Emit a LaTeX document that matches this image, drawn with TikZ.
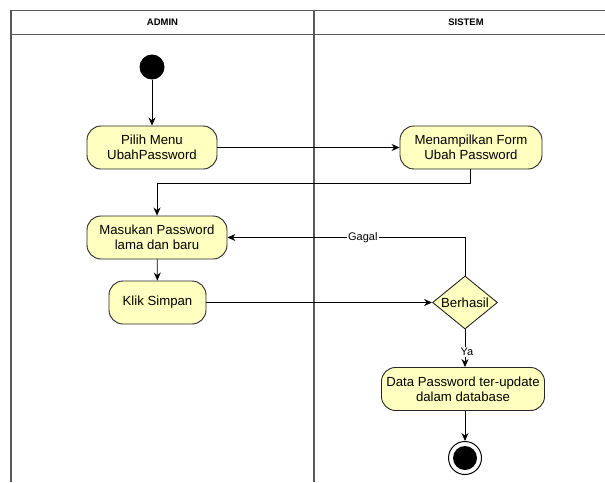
\documentclass[tikz,border=0pt]{standalone}
\usepackage{fontspec}
\setmainfont{Liberation Sans}
\usetikzlibrary{shapes.geometric,arrows.meta}
\definecolor{actfill}{HTML}{FFFFC0}
\begin{document}
\begin{tikzpicture}[x=1pt,y=-1pt,
  lane/.style={draw=black!65,line width=1.3pt},
  act/.style={draw=black!85,line width=0.9pt,fill=actfill,rounded corners=14pt,
    minimum height=43pt,align=center,inner sep=2pt,font=\fontsize{13.2}{15}\selectfont},
  dec/.style={draw=black!85,line width=0.9pt,fill=actfill,diamond,aspect=1.23,
    minimum width=65pt,minimum height=53pt,inner sep=0pt,font=\fontsize{13.2}{15}\selectfont},
  flow/.style={draw=black,line width=0.8pt,-{Stealth[length=8pt,width=7pt]}},
  lbl/.style={fill=white,inner sep=1pt,font=\fontsize{11}{12}\selectfont},
  head/.style={font=\bfseries\fontsize{9.5}{11}\selectfont}]
\useasboundingbox (0,0) rectangle (605,482);
\fill[white] (0,0) rectangle (605,482);
% swimlanes
\draw[lane] (11,482) -- (11,10.5) -- (620,10.5);
\draw[lane] (11,34.5) -- (620,34.5);
\draw[lane] (314,10.5) -- (314,482);
\node[head] (hadmin) at (162.5,22.5) {ADMIN};
\node[head] (hsistem) at (466,22.5) {SISTEM};
% nodes
\node[circle,fill=black,minimum size=25pt,inner sep=0pt] (start) at (152,67) {};
\node[act,minimum width=130pt] (pilih) at (152,147.5) {Pilih Menu\\UbahPassword};
\node[act,minimum width=142pt] (form) at (471,147.5) {Menampilkan Form\\Ubah Password};
\node[act,minimum width=140pt] (masuk) at (157,237.5) {Masukan Password\\lama dan baru};
\node[act,minimum width=97pt] (klik) at (157.5,302.5) {Klik Simpan};
\node[dec] (cek) at (465,302.5) {Berhasil};
\node[act,minimum width=163pt] (data) at (463,389) {Data Password ter-update\\dalam database};
\node[circle,draw=black,line width=1pt,minimum size=33pt,inner sep=0pt] (end) at (465,458) {};
\node[circle,fill=black,minimum size=24pt,inner sep=0pt] (endin) at (465,458) {};
\coordinate (turn) at (470.7,183);
% flows
\draw[flow] (start) -- (pilih);
\draw[flow] (pilih) -- (form);
\draw[flow] (form.south -| turn) -- (turn) -- (turn -| masuk.north) -- (masuk.north);
\draw[flow] (masuk) -- (klik);
\draw[flow] (klik) -- (cek);
\draw[flow] (cek.north) -- (cek.north |- masuk.east) -- node[lbl,pos=0.43]{Gagal} (masuk.east);
\draw[flow] (cek.south) -- node[lbl,pos=0.6,xshift=2pt]{Ya} (cek.south |- data.north);
\draw[flow] (data.south -| end) -- (end.north);
\end{tikzpicture}
\end{document}
